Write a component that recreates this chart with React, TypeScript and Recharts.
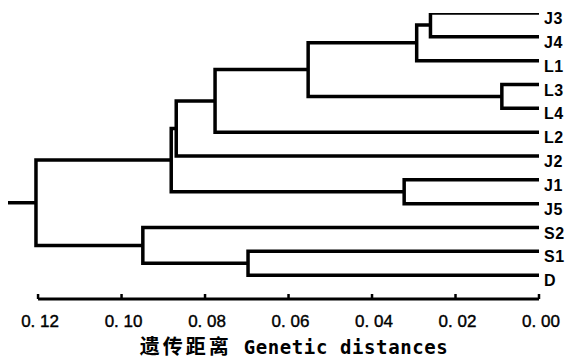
import React from 'react';
import { LineChart, Line, XAxis, YAxis, ReferenceLine, Label } from 'recharts';

// Leaves, top to bottom
const leaves = ['J3', 'J4', 'L1', 'L3', 'L4', 'L2', 'J2', 'J1', 'J5', 'S2', 'S1', 'D'];

// Merge steps (UPGMA-style): left child, right child, genetic distance
const mergeIds = ['n0', 'n1', 'n2', 'n3', 'n4', 'n5', 'n6', 'n7', 'n8', 'n9', 'n10'];
const mergeLeft = ['J3', 'n0', 'L3', 'n1', 'n3', 'n4', 'J1', 'n5', 'S1', 'S2', 'n7'];
const mergeRight = ['J4', 'L1', 'L4', 'n2', 'L2', 'J2', 'J5', 'n6', 'D', 'n8', 'n9'];
const mergeHeight = [0.026, 0.0293, 0.0089, 0.0553, 0.0776, 0.0869, 0.0323, 0.0881, 0.0697, 0.0949, 0.1205];
const rootStub = 0.0067;

const xTicks = [0.12, 0.1, 0.08, 0.06, 0.04, 0.02, 0.0];
const xTickLabels = ['0. 12', '0. 10', '0. 08', '0. 06', '0. 04', '0. 02', '0. 00'];
const titleCn = '遗传距离';
const titleEn = ' Genetic distances';

// Build node positions
const pos: Record<string, { x: number; y: number }> = {};
leaves.forEach((l, i) => (pos[l] = { x: 0, y: i }));
const segments: { x: number; y: number }[][] = [];
mergeIds.forEach((id, i) => {
  const a = pos[mergeLeft[i]];
  const b = pos[mergeRight[i]];
  const h = mergeHeight[i];
  segments.push([
    { x: a.x, y: a.y },
    { x: h, y: a.y },
    { x: h, y: b.y },
    { x: b.x, y: b.y },
  ]);
  pos[id] = { x: h, y: (a.y + b.y) / 2 };
});
const root = pos[mergeIds[mergeIds.length - 1]];
segments.push([
  { x: root.x, y: root.y },
  { x: root.x + rootStub, y: root.y },
]);

const axisRow = leaves.length; // row index of the distance axis
const leafTicks = leaves.map((_, i) => i);

const XTick = (props: any) => {
  const { x, y, payload } = props;
  const idx = xTicks.indexOf(payload.value);
  return (
    <g>
      <line x1={x} x2={x} y1={y - 5} y2={y} stroke="#000" strokeWidth={2.5} />
      <text
        x={x + 2}
        y={y + 28}
        textAnchor="middle"
        fontFamily="Liberation Sans, Arial, sans-serif"
        fontSize={17}
        fill="#000"
        stroke="#000"
        strokeWidth={0.4}
      >
        {idx >= 0 ? xTickLabels[idx] : ''}
      </text>
    </g>
  );
};

const YTick = (props: any) => {
  const { x, y, payload } = props;
  return (
    <text
      x={x + 5}
      y={y + 11}
      textAnchor="start"
      fontFamily="Liberation Sans, Arial, sans-serif"
      fontSize={16}
      fontWeight="bold"
      letterSpacing={0.5}
      fill="#000"
    >
      {leaves[payload.value]}
    </text>
  );
};

export default function App() {
  return (
    <div style={{ position: 'absolute', left: 0, top: 0, background: '#fff' }}>
      <LineChart width={571} height={359} margin={{ top: 13, right: 0, bottom: 0, left: 8 }}>
        <XAxis
          type="number"
          dataKey="x"
          domain={[0, mergeHeight[mergeHeight.length - 1] + rootStub]}
          reversed
          ticks={xTicks}
          interval={0}
          axisLine={false}
          tickLine={false}
          tickSize={0}
          tickMargin={0}
          height={60}
          tick={<XTick />}
          allowDataOverflow
        >
          <Label
            content={() => (
              <text x={294} y={354} textAnchor="middle" fill="#000">
                <tspan fontFamily="Noto Sans CJK SC" fontWeight="bold" fontSize={20} letterSpacing={3}>
                  {titleCn}
                </tspan>
                <tspan fontFamily="DejaVu Sans Mono" fontWeight="bold" fontSize={19} letterSpacing={0.6}>
                  {titleEn}
                </tspan>
              </text>
            )}
          />
        </XAxis>
        <YAxis
          type="number"
          dataKey="y"
          domain={[0, axisRow]}
          reversed
          orientation="right"
          width={32}
          ticks={leafTicks}
          interval={0}
          axisLine={false}
          tickLine={false}
          tickSize={0}
          tickMargin={0}
          tick={<YTick />}
          allowDataOverflow
        />
        <ReferenceLine
          segment={[
            { x: xTicks[0], y: axisRow },
            { x: xTicks[xTicks.length - 1], y: axisRow },
          ]}
          stroke="#000"
          strokeWidth={3}
          ifOverflow="visible"
        />
        {segments.map((seg, i) => (
          <Line
            key={i}
            data={seg}
            dataKey="y"
            type="linear"
            stroke="#000"
            strokeWidth={3.5}
            strokeLinejoin="miter"
            strokeLinecap="butt"
            dot={false}
            activeDot={false}
            isAnimationActive={false}
          />
        ))}
      </LineChart>
    </div>
  );
}
